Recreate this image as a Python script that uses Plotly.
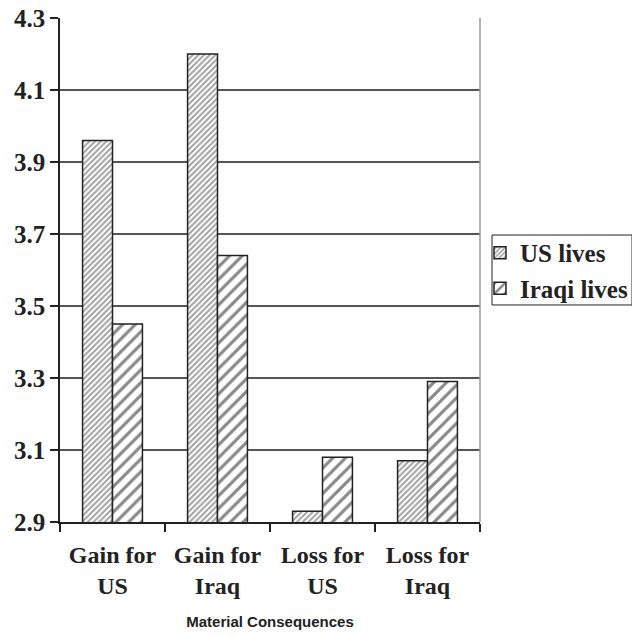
import plotly.graph_objects as go

categories = ["Gain for<br>US", "Gain for<br>Iraq", "Loss for<br>US", "Loss for<br>Iraq"]
series_names = ["US lives", "Iraqi lives"]
us_lives = [3.96, 4.20, 2.93, 3.07]
iraqi_lives = [3.45, 3.64, 3.08, 3.29]
y_ticks = [2.9, 3.1, 3.3, 3.5, 3.7, 3.9, 4.1, 4.3]

serif = "Liberation Serif"

fig = go.Figure()
fig.add_trace(go.Bar(
    name=f"<b>{series_names[0]}</b>", x=categories, y=us_lives,
    marker=dict(color="white", line=dict(color="#222", width=1.5),
                pattern=dict(shape="/", size=4, solidity=0.5,
                             fgcolor="#444", bgcolor="white")),
))
fig.add_trace(go.Bar(
    name=f"<b>{series_names[1]}</b>", x=categories, y=iraqi_lives,
    marker=dict(color="white", line=dict(color="#222", width=1.5),
                pattern=dict(shape="/", size=9, solidity=0.35,
                             fgcolor="#111", bgcolor="white")),
))

fig.update_layout(
    width=632, height=635,
    margin=dict(l=60, r=152, t=18, b=113, autoexpand=False),
    paper_bgcolor="white", plot_bgcolor="white",
    barmode="group", bargap=0.43, bargroupgap=0,
    font=dict(family=serif, size=24, color="#222"),
    legend=dict(
        x=1.0, y=0.5795, xanchor="left", yanchor="top",
        borderwidth=0, bgcolor="rgba(0,0,0,0)",
        font=dict(family=serif, size=25, color="#222"),
        tracegroupgap=0, itemwidth=30,
    ),
    showlegend=True,
)

fig.update_xaxes(
    tickvals=categories, ticktext=[f"<b>{c}</b>" for c in categories],
    showline=True, linecolor="#222", linewidth=1.5,
    ticks="outside", tickson="boundaries", ticklen=8,
    tickcolor="#222", tickwidth=1.5, ticklabelstandoff=10,
    tickfont=dict(family=serif, size=24, color="#222"),
    title=dict(text="<b>Material Consequences</b>",
               font=dict(family="Liberation Sans", size=15, color="#222"),
               standoff=19),
    showgrid=False,
)
fig.update_yaxes(
    range=[2.9, 4.3], tickvals=y_ticks, ticktext=[f"<b>{v:.1f}</b>" for v in y_ticks],
    showline=True, linecolor="#222", linewidth=1.5,
    ticks="outside", ticklen=8, tickcolor="#222", tickwidth=1.5,
    tickfont=dict(family=serif, size=25, color="#222"),
    showgrid=True, gridcolor="#555", gridwidth=1.5,
    zeroline=False,
)

# light frame on the right edge of the plot area
fig.add_shape(type="line", xref="paper", yref="paper", x0=1, x1=1, y0=0, y1=1,
              line=dict(color="#999", width=1.5))
# legend frame
fig.add_shape(type="rect", xref="paper", yref="paper",
              x0=1.0286, x1=1.362, y0=0.4306, y1=0.5694,
              line=dict(color="#222", width=1), fillcolor="white", layer="below")

fig.write_html("out.html")
